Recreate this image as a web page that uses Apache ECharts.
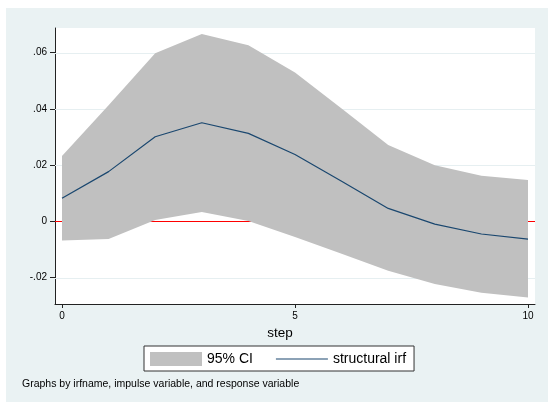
<!DOCTYPE html>
<html>
<head>
<meta charset="utf-8">
<script src="https://cdn.jsdelivr.net/npm/echarts@6/dist/echarts.min.js"></script>
<style>
  html, body { margin: 0; padding: 0; background: #ffffff; }
  #chart { width: 548px; height: 402px; }
</style>
</head>
<body>
<div id="chart"></div>
<script>
// Impulse-response function with its 95% confidence band
const steps = [0, 1, 2, 3, 4, 5, 6, 7, 8, 9, 10];
const irf   = [0.0082, 0.0177, 0.0301, 0.0351, 0.0313, 0.0238, 0.0143, 0.0046, -0.0010, -0.0045, -0.0063];
const ciLow = [-0.0068, -0.0063, 0.0005, 0.0033, 0.0001, -0.0056, -0.0115, -0.0176, -0.0223, -0.0254, -0.0271];
const ciUp  = [0.0233, 0.0413, 0.0598, 0.0667, 0.0627, 0.0530, 0.0402, 0.0272, 0.0200, 0.0162, 0.0147];

const yTicks = [-0.02, 0, 0.02, 0.04, 0.06];
const yTickLabels = ['-.02', '0', '.02', '.04', '.06'];
const xTicks = [0, 5, 10];
const xTickLabels = ['0', '5', '10'];

const FONT = 'Liberation Sans, Arial, Helvetica, sans-serif';
const BG = '#EAF2F3';

function pickLabel(ticks, labels) {
  return function (v) {
    const i = ticks.findIndex(t => Math.abs(t - v) < 1e-9);
    return i >= 0 ? labels[i] : '';
  };
}

const bandRows = steps.map((s, i) => [s, ciLow[i], ciUp[i]]);
const irfPts   = steps.map((s, i) => [s, irf[i]]);

// One polygon: upper bound left-to-right, then lower bound back
function renderBand(params, api) {
  if (params.dataIndex !== 0) return null;
  const upper = bandRows.map(r => api.coord([r[0], r[2]]));
  const lower = bandRows.map(r => api.coord([r[0], r[1]])).reverse();
  return {
    type: 'polygon',
    shape: { points: upper.concat(lower) },
    style: { fill: '#C0C0C0', stroke: null }
  };
}

// Horizontal reference lines across the plot: grid at the y ticks, red at zero
function renderRefLine(params, api) {
  const v = api.value(0);
  const cs = params.coordSys;
  const y = Math.round(api.coord([0, v])[1]) + 0.5;
  return {
    type: 'line',
    shape: { x1: cs.x, y1: y, x2: cs.x + cs.width, y2: y },
    style: { stroke: v === 0 ? '#FF0000' : '#E6EFF1', lineWidth: 1 }
  };
}

const chart = echarts.init(document.getElementById('chart'), null, { renderer: 'canvas' });

chart.setOption({
  animation: false,
  backgroundColor: BG,
  textStyle: { fontFamily: FONT },
  graphic: {
    elements: [
      { type: 'rect', z: 100, silent: true, shape: { x: 0, y: 0, width: 548, height: 8 }, style: { fill: '#ffffff' } },
      { type: 'rect', z: 100, silent: true, shape: { x: 0, y: 0, width: 6, height: 402 }, style: { fill: '#ffffff' } }
    ]
  },
  title: {
    text: 'Graphs by irfname, impulse variable, and response variable',
    left: 22,
    top: 379,
    padding: 0,
    textStyle: { fontSize: 10.5, fontWeight: 'normal', color: '#000', fontFamily: FONT }
  },
  legend: {
    left: 144,
    top: 346,
    orient: 'horizontal',
    itemWidth: 52,
    itemHeight: 14,
    itemGap: 23,
    padding: [6, 8, 5, 6],
    borderColor: '#333',
    borderWidth: 1,
    borderRadius: 0,
    backgroundColor: '#ffffff',
    textStyle: { fontSize: 14, color: '#000', fontFamily: FONT },
    selectedMode: false,
    data: [
      { name: '95% CI', icon: 'rect', itemStyle: { color: '#C0C0C0', borderWidth: 0, opacity: 1 } },
      { name: 'structural irf', icon: 'path://M0,0 L52,0 L52,1.2 L0,1.2 Z', itemStyle: { color: '#1A476F', borderWidth: 0 } }
    ]
  },
  grid: {
    left: 55,
    top: 28,
    right: 13,
    bottom: 98,
    show: true,
    backgroundColor: '#ffffff',
    borderWidth: 0
  },
  xAxis: {
    type: 'value',
    min: -0.15,
    max: 10.15,
    name: 'step',
    nameLocation: 'middle',
    nameGap: 21,
    nameTextStyle: { fontSize: 13.5, color: '#000', fontFamily: FONT, padding: [0, 30, 0, 0] },
    axisLine: { show: true, onZero: false, lineStyle: { color: '#222', width: 1 } },
    axisTick: { show: true, length: 4, customValues: xTicks, lineStyle: { color: '#222', width: 1 } },
    axisLabel: {
      customValues: xTicks,
      formatter: pickLabel(xTicks, xTickLabels),
      fontSize: 10, color: '#000', margin: 7, fontFamily: FONT
    },
    splitLine: { show: false }
  },
  yAxis: {
    type: 'value',
    min: -0.0294,
    max: 0.0688,
    axisLine: { show: true, onZero: false, lineStyle: { color: '#222', width: 1 } },
    axisTick: { show: true, length: 5, customValues: yTicks, lineStyle: { color: '#222', width: 1 } },
    axisLabel: {
      customValues: yTicks,
      formatter: pickLabel(yTicks, yTickLabels),
      fontSize: 10, color: '#000', margin: 8, fontFamily: FONT
    },
    splitLine: { show: false }
  },
  series: [
    {
      name: 'reference lines',
      type: 'custom',
      data: yTicks.map(v => [v]),
      encode: { y: 0 },
      renderItem: renderRefLine,
      z: 1,
      silent: true
    },
    {
      name: '95% CI',
      type: 'custom',
      data: bandRows,
      encode: { x: 0, y: [1, 2] },
      renderItem: renderBand,
      itemStyle: { color: '#C0C0C0' },
      z: 3,
      silent: true
    },
    {
      name: 'structural irf',
      type: 'line',
      data: irfPts,
      symbol: 'none',
      itemStyle: { color: '#1A476F' },
      lineStyle: { width: 1.2, color: '#1A476F' },
      z: 4,
      silent: true
    }
  ]
});
</script>
</body>
</html>
